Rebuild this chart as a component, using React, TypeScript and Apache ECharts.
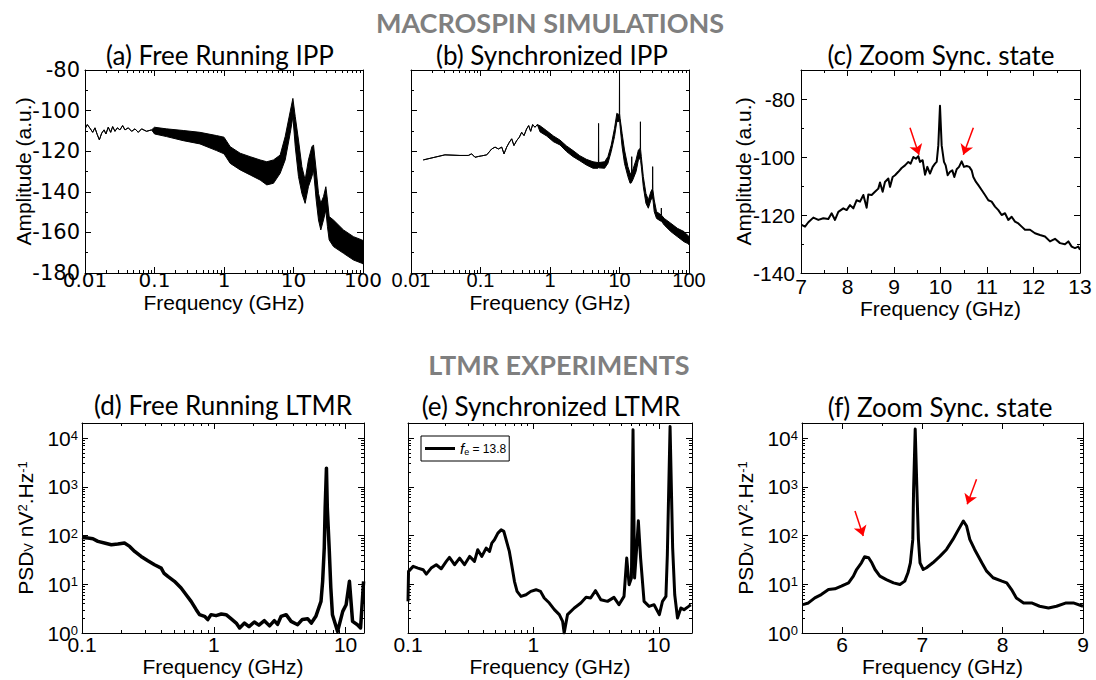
import React, { useEffect, useRef } from 'react';
import * as echarts from 'echarts';

const FONT = '"Liberation Sans", Arial, Helvetica, sans-serif';
const WIDE_FONT = '"DejaVu Sans", Verdana, sans-serif';
const TITLE_FONT = 'Lato, "Open Sans", sans-serif';

// ---------- (a) Free Running IPP: frequency (GHz), upper / lower envelope (a.u.)
const freqA = [0.0100, 0.0108, 0.0118, 0.0129, 0.0139, 0.0150, 0.0161, 0.0174, 0.0188, 0.0200, 0.0216, 0.0234, 0.0250, 0.0270, 0.0292, 0.0318, 0.0348, 0.0376, 0.0420, 0.0469, 0.0524, 0.0584, 0.0652, 0.0769, 0.0908,
  0.100, 0.149, 0.259, 0.450, 0.78, 1.0, 1.23, 1.71, 2.38, 3.31, 4.13, 5.15, 6.43, 7.59, 8.96, 9.8, 10.6, 11.8, 13.2, 14.7, 16.4, 18.4, 19.4, 21.2, 22.9, 24.7, 27.0, 29.2, 30.8, 32.6, 37.6, 52.4, 73.0, 96.2, 100];
const ampAHi = [-109.0, -106.9, -108.7, -110.7, -108.5, -111.8, -114.4, -111.1, -109.5, -111.5, -108.2, -110.7, -107.9, -110.2, -108.5, -109.5, -107.4, -109.5, -108.5, -110.2, -109.0, -110.7, -109.0, -110.2, -109.5,
  -108.2, -109.0, -109.8, -110.7, -112.3, -113.1, -117.8, -121.0, -122.7, -124.3, -125.2, -124.3, -121.9, -112.8, -100.5, -94.0, -103.0, -114.5, -127.6, -134.2, -124.3, -117.8, -116.9, -129.3, -140.8, -145.7, -142.4, -137.5, -144.0, -152.2, -153.9, -158.8, -162.1, -163.7, -164.0];
const ampALo = [-109.0, -106.9, -108.7, -110.7, -108.5, -111.8, -114.4, -111.1, -109.5, -111.5, -108.2, -110.7, -107.9, -110.2, -108.5, -109.5, -107.4, -109.5, -108.5, -110.2, -109.0, -110.7, -109.0, -110.2, -109.5,
  -111.5, -112.8, -114.8, -116.4, -119.7, -121.3, -126.0, -129.2, -131.7, -134.2, -136.6, -135.8, -130.9, -124.3, -111.2, -103.0, -117.8, -132.5, -140.8, -145.7, -137.5, -132.5, -129.3, -144.0, -153.9, -158.8, -153.9, -149.0, -157.2, -163.7, -167.0, -170.3, -173.6, -175.2, -175.5];

// ---------- (b) Synchronized IPP
const freqB = [0.0150, 0.0308, 0.0507, 0.0668, 0.0746, 0.0833, 0.0931, 0.104, 0.123, 0.145, 0.162, 0.181, 0.202, 0.218, 0.238, 0.260, 0.281, 0.303, 0.331, 0.362, 0.391, 0.423, 0.461, 0.493, 0.527, 0.563, 0.608, 0.657,
  0.72, 0.896, 1.12, 1.39, 1.73, 2.15, 2.68, 3.34, 4.16, 4.90, 4.97, 5.0, 5.03, 6.11, 6.81, 7.60, 8.48, 9.16, 9.78, 9.95, 10.0, 10.05, 10.2, 10.9, 11.8, 13.2, 14.2, 14.9, 15.0, 15.1, 15.5, 17.3, 18.7, 19.9, 20.0, 20.1, 20.6, 22.0, 24.0, 26.0, 28.3, 29.8, 30.0, 30.2, 31.6, 34.1, 38.1, 39.8, 40.0, 40.2, 44.0, 54.7, 68.1, 84.8, 94.7, 100];
const ampBHi = [-124.3, -121.8, -122.1, -122.1, -121.3, -123.0, -122.6, -122.3, -121.8, -118.9, -118.0, -118.9, -118.0, -121.3, -118.0, -115.6, -113.9, -117.2, -114.8, -113.1, -110.7, -112.3, -109.0, -107.4, -110.2, -106.9, -108.2, -106.9,
  -107.5, -109.9, -112.5, -114.5, -117.4, -119.7, -122.2, -124.0, -125.2, -125.6, -125.6, -106.3, -125.6, -125.2, -122.7, -117.0, -108.7, -101.3, -102.2, -101.0, -80.5, -101.5, -103.8, -111.2, -119.4, -127.6, -130.9, -131.0, -122.7, -130.5, -129.3, -124.3, -119.4, -118.5, -105.5, -119.0, -122.7, -132.5, -140.8, -144.0, -139.9, -138.5, -127.6, -139.0, -144.0, -149.8, -150.9, -151.5, -148.0, -151.5, -153.1, -155.5, -158.0, -159.6, -161.3, -162.0];
const ampBLo = [-124.3, -121.8, -122.1, -122.1, -121.3, -123.0, -122.6, -122.3, -121.8, -118.9, -118.0, -118.9, -118.0, -121.3, -118.0, -115.6, -113.9, -117.2, -114.8, -113.1, -110.7, -112.3, -109.0, -107.4, -110.2, -106.9, -108.2, -106.9,
  -110.5, -112.5, -115.3, -116.9, -120.2, -122.7, -124.7, -126.8, -128.4, -128.4, -128.2, -128.0, -128.2, -128.4, -126.0, -120.2, -112.8, -105.4, -105.4, -104.5, -104.0, -105.0, -107.9, -117.8, -126.0, -132.5, -135.8, -135.5, -135.0, -135.0, -134.2, -130.1, -124.3, -123.5, -124.0, -124.5, -127.6, -137.5, -145.7, -148.1, -144.0, -143.0, -143.0, -143.5, -149.8, -153.1, -154.2, -154.5, -154.5, -154.5, -156.4, -159.6, -162.1, -164.6, -165.4, -166.0];

// ---------- (c) Zoom Sync. state (simulation)
const freqC = [7.014, 7.086, 7.158, 7.265, 7.373, 7.480, 7.588, 7.659, 7.731, 7.803, 7.910, 7.982, 8.054, 8.125, 8.197, 8.269, 8.341, 8.412, 8.448, 8.520, 8.591, 8.663, 8.699, 8.756, 8.806, 8.878, 8.914, 8.971, 9.022, 9.093, 9.165, 9.237, 9.308, 9.358, 9.416, 9.473, 9.523, 9.559, 9.616, 9.667, 9.717, 9.774, 9.832, 9.882, 9.918, 9.953, 9.989, 10.025, 10.075, 10.111, 10.154, 10.204, 10.254, 10.297, 10.348, 10.398, 10.455, 10.505, 10.563, 10.620, 10.670, 10.706, 10.763, 10.814, 10.885, 10.957, 11.029, 11.100, 11.172, 11.244, 11.315, 11.387, 11.459, 11.530, 11.602, 11.674, 11.746, 11.817, 11.925, 12.032, 12.140, 12.247, 12.355, 12.462, 12.570, 12.677, 12.749, 12.821, 12.892, 12.964, 13.0];
const ampC = [-123.4, -124.0, -122.5, -120.9, -121.7, -121.1, -121.4, -119.4, -121.7, -118.9, -117.7, -118.3, -116.6, -117.7, -114.9, -115.4, -113.1, -117.5, -112.9, -113.1, -112.0, -110.9, -108.8, -112.0, -108.6, -107.4, -110.3, -106.9, -106.3, -105.1, -103.8, -102.9, -101.7, -102.3, -100.0, -100.6, -99.7, -101.7, -101.1, -106.1, -103.4, -105.7, -103.4, -102.3, -101.7, -96.0, -82.3, -96.0, -101.7, -102.9, -106.3, -105.1, -104.6, -106.9, -104.2, -103.4, -101.5, -103.4, -103.1, -103.4, -104.6, -106.9, -108.6, -109.7, -111.4, -113.1, -114.9, -115.4, -117.1, -118.3, -120.0, -119.4, -121.7, -120.6, -122.3, -122.9, -124.0, -125.1, -125.1, -126.3, -126.9, -127.4, -129.1, -128.2, -129.7, -130.1, -129.1, -130.9, -131.4, -130.9, -132.0];
const arrowsC = [[9.344, -89.9, 9.538, -99.2], [10.706, -89.9, 10.491, -99.2]];

// ---------- (d) Free Running LTMR: frequency (GHz), PSD (nV^2/Hz)
const freqD = [0.100, 0.111, 0.121, 0.132, 0.148, 0.167, 0.187, 0.210, 0.230, 0.251, 0.281, 0.316, 0.355, 0.399, 0.418, 0.448, 0.503, 0.565, 0.617, 0.673, 0.736, 0.779, 0.851, 0.900, 0.953, 1.04, 1.14, 1.24, 1.35, 1.48, 1.57, 1.71, 1.85, 2.03, 2.2, 2.42, 2.65, 2.88, 3.05, 3.24, 3.54, 3.86, 4.33, 4.7, 5.15, 5.5, 5.95, 6.51, 6.70, 6.89, 7.00, 7.16, 7.27, 7.51, 7.73, 7.95, 8.70, 9.52, 10.1, 10.7, 11.3, 12.3, 13.0, 13.7];
const psdD = [91.6, 88.7, 86, 75.8, 70.1, 64.8, 66.8, 70.1, 59.9, 47.3, 37.3, 30.4, 25.2, 21.5, 17.0, 14.5, 11.5, 8.37, 6.11, 4.46, 3.01, 2.38, 2.20, 1.88, 2.38, 2.27, 2.45, 2.38, 1.97, 1.60, 1.27, 1.60, 1.35, 1.68, 1.45, 1.79, 1.40, 1.79, 1.5, 2.20, 2.38, 1.73, 1.48, 1.9, 1.97, 1.6, 2.20, 4.46, 11.5, 55.3, 365, 2417, 365, 55.3, 8.4, 2.38, 1.08, 2.78, 3.81, 11.5, 1.73, 1.48, 1.27, 11.5];

// ---------- (e) Synchronized LTMR
const freqE = [0.100, 0.101, 0.110, 0.120, 0.132, 0.140, 0.153, 0.168, 0.184, 0.202, 0.214, 0.235, 0.258, 0.282, 0.310, 0.339, 0.360, 0.388, 0.420, 0.447, 0.466, 0.489, 0.521, 0.553, 0.581, 0.606, 0.643, 0.671, 0.706, 0.741, 0.796, 0.873, 0.954, 1.05, 1.14, 1.22, 1.34, 1.47, 1.61, 1.71, 1.76, 1.87, 2.12, 2.39, 2.63, 2.86, 3.13, 3.45, 3.90, 4.39, 4.81, 5.28, 5.55, 5.80, 6.05, 6.23, 6.41, 6.66, 6.87, 7.16, 7.63, 8.37, 9.17, 10.1, 10.7, 11.4, 11.7, 12.3, 12.9, 13.4, 14.1, 15.0, 15.9, 17.3, 18.0];
const psdE = [4.46, 18.4, 23.3, 21.5, 19.9, 16.2, 21.5, 25.2, 20.8, 29.5, 35.6, 25.2, 34.5, 25.2, 37.3, 29.5, 51.1, 37.3, 55.3, 47.3, 70.1, 82, 112, 131, 122, 82, 47.3, 25.2, 11.5, 7.15, 5.65, 6.11, 7.15, 7.74, 7.15, 5.22, 4.12, 3.01, 2.38, 1.73, 1.0, 2.38, 3.26, 4.12, 5.39, 5.22, 7.38, 4.83, 4.46, 5.39, 3.81, 5.65, 34.5, 9.8, 13.4, 14800, 13.4, 55.3, 201, 34.5, 4.46, 3.52, 3.81, 2.38, 4.46, 5.65, 40.4, 17300, 55.3, 6.11, 2.03, 3.26, 3.01, 3.52, 3.81];

// ---------- (f) Zoom Sync. state (experiment)
const freqF = [5.51, 5.58, 5.66, 5.74, 5.83, 5.91, 5.99, 6.08, 6.14, 6.18, 6.24, 6.28, 6.33, 6.37, 6.41, 6.47, 6.55, 6.64, 6.72, 6.78, 6.82, 6.85, 6.88, 6.89, 6.91, 6.93, 6.95, 6.97, 7.01, 7.05, 7.13, 7.22, 7.30, 7.38, 7.45, 7.51, 7.55, 7.59, 7.65, 7.74, 7.80, 7.88, 7.99, 8.05, 8.11, 8.17, 8.26, 8.36, 8.46, 8.57, 8.67, 8.79, 8.88, 9.00];
const psdF = [3.83, 4.14, 5.25, 6.15, 7.80, 8.05, 9.14, 10.7, 14.7, 20.1, 27.6, 36.7, 35.0, 27.6, 20.1, 14.7, 12.5, 10.7, 9.89, 11.6, 17.2, 27.6, 83.4, 892, 15300, 1044, 83.4, 27.6, 20.1, 21.8, 27.6, 37.8, 51.9, 83.4, 134, 199, 157, 83.4, 51.9, 27.6, 18.6, 13.6, 11.6, 10.7, 7.80, 5.25, 4.14, 4.14, 3.54, 3.27, 3.54, 4.14, 4.14, 3.54];
const arrowsF = [[6.16, 319, 6.263, 98], [7.674, 1432, 7.558, 437]];

// ---------- tick labels
const xTicksLogAB = [0.01, 0.1, 1, 10, 100];
const yTicksAB = [-180, -160, -140, -120, -100, -80];
const yMinorAB = [-170, -150, -130, -110, -90];
const xTicksC = [7, 8, 9, 10, 11, 12, 13];
const xMinorC = [7.5, 8.5, 9.5, 10.5, 11.5, 12.5];
const yTicksC = [-140, -120, -100, -80];
const yMinorC = [-130, -110, -90];
const xTicksLogDE = [0.1, 1, 10];
const yTicksPSD = [1, 10, 100, 1000, 10000];
const xTicksF = [6, 7, 8, 9];
const xMinorF = [6.5, 7.5, 8.5];

const lg = (v: number) => Math.log10(v);
const idf = (v: number) => v;

function logMinors(lo: number, hi: number) {
  const out: number[] = [];
  for (let k = Math.floor(lo) - 1; k <= Math.ceil(hi); k++) {
    for (let m = 2; m <= 9; m++) {
      const v = k + Math.log10(m);
      if (v > lo + 1e-6 && v < hi - 1e-6) out.push(v);
    }
  }
  return out;
}

const logLabel = (v: number) => String(+Math.pow(10, v).toPrecision(2));
const powLabel = (v: number) => `{b|10}{s|${Math.round(v)}}`;
const powRich = {
  b: { fontSize: 21, lineHeight: 18, fontFamily: FONT, color: '#000' },
  s: { fontSize: 13, lineHeight: 12, fontFamily: FONT, color: '#000', verticalAlign: 'top' },
};
const psdName = '{b|PSD}{sub|V}{b| nV}{sup|2}{b|.Hz}{sup|-1}';
const psdRich = {
  b: { fontSize: 21, lineHeight: 19, fontFamily: FONT, color: '#000' },
  sub: { fontSize: 13, lineHeight: 12, fontFamily: FONT, color: '#000', verticalAlign: 'bottom' },
  sup: { fontSize: 13, lineHeight: 12, fontFamily: FONT, color: '#000', verticalAlign: 'top' },
};

type AxOpts = {
  labels: boolean;
  fmt?: any;
  rich?: any;
  name?: string;
  nameGap?: number;
  nameRich?: any;
  margin?: number;
  fontSize?: number;
  fontFamily?: string;
};

function makeAxes(kind: 'x' | 'y', grid: number, min: number, max: number, majors: number[], minors: number[], o: AxOpts) {
  const pos = kind === 'x' ? ['bottom', 'top'] : ['left', 'right'];
  const line = (show: boolean) => ({ show, onZero: false, lineStyle: { color: '#000', width: 1 } });
  const base = {
    type: 'value',
    gridIndex: grid,
    min,
    max,
    scale: true,
    splitLine: { show: false },
  };
  const tick = (vals: number[], len: number) => ({
    show: true, inside: true, length: len, customValues: vals, lineStyle: { color: '#000', width: 1 },
  });
  const fs = o.fontSize ?? 21;
  const main: any = {
    ...base,
    position: pos[0],
    axisLine: line(true),
    axisTick: tick(majors, 6),
    axisLabel: o.labels
      ? { show: true, customValues: majors, formatter: o.fmt, color: '#000', fontFamily: o.fontFamily ?? FONT, fontSize: fs, lineHeight: fs - 4, margin: o.margin ?? 3, rich: o.rich }
      : { show: false },
  };
  if (o.name) {
    main.name = o.name;
    main.nameLocation = 'middle';
    main.nameGap = o.nameGap;
    main.nameMoveOverlap = false;
    main.nameRotate = kind === 'y' ? 90 : 0;
    main.nameTextStyle = { color: '#000', fontFamily: FONT, fontSize: 21, lineHeight: 18, rich: o.nameRich };
  }
  return [
    main,
    { ...base, position: pos[0], axisLine: line(false), axisTick: tick(minors, 3), axisLabel: { show: false } },
    { ...base, position: pos[1], axisLine: line(true), axisTick: tick(majors, 6), axisLabel: { show: false } },
    { ...base, position: pos[1], axisLine: line(false), axisTick: tick(minors, 3), axisLabel: { show: false } },
  ];
}

function pts(xs: number[], ys: number[], fx: (v: number) => number, fy: (v: number) => number) {
  return xs.map((x, i) => [fx(x), fy(ys[i])]);
}

function lineSeries(g: number, data: number[][], width: number, extra: any = {}) {
  return {
    type: 'line', xAxisIndex: g * 4, yAxisIndex: g * 4, data, symbol: 'none', showSymbol: false, silent: true,
    lineStyle: { color: '#000', width, join: 'round' }, itemStyle: { color: '#000' }, z: 3, ...extra,
  };
}

// noise band between the upper and lower envelope, drawn through the axes' own scales
function bandSeries(g: number, xs: number[], hi: number[], lo: number[]) {
  return {
    type: 'custom',
    xAxisIndex: g * 4,
    yAxisIndex: g * 4,
    silent: true,
    clip: true,
    z: 3,
    data: xs.map((x, i) => [lg(x), hi[i], lo[i]]),
    encode: { x: 0, y: [1, 2] },
    renderItem: (params: any, api: any) => {
      if (params.dataIndex !== 0) return null;
      const top = xs.map((x, i) => api.coord([lg(x), hi[i]]));
      const bot = xs.map((x, i) => api.coord([lg(x), lo[i]])).reverse();
      return {
        type: 'polygon',
        shape: { points: top.concat(bot) },
        style: { fill: '#000', stroke: '#000', lineWidth: 1, lineJoin: 'round' },
      };
    },
  };
}

function arrowMark(list: number[][], fy: (v: number) => number) {
  return {
    silent: true,
    symbol: ['none', 'arrow'],
    symbolSize: 10,
    label: { show: false },
    lineStyle: { color: '#ff0000', width: 1.5, type: 'solid' },
    itemStyle: { color: '#ff0000' },
    emphasis: { disabled: true },
    data: list.map((a) => [{ coord: [a[0], fy(a[1])] }, { coord: [a[2], fy(a[3])] }]),
  };
}

function buildOption() {
  const grids = [
    { left: 85, top: 70, width: 278, height: 203 },
    { left: 411, top: 70, width: 278, height: 203 },
    { left: 801, top: 70, width: 279, height: 203 },
    { left: 82, top: 423, width: 282, height: 210 },
    { left: 408, top: 423, width: 284, height: 210 },
    { left: 802, top: 423, width: 281, height: 210 },
  ];
  const xLogAB = xTicksLogAB.map(lg);
  const xLogDE = xTicksLogDE.map(lg);
  const yPSD = yTicksPSD.map(lg);
  const yMaxPSD = 4.31;
  const xMaxD = lg(13.8);
  const xMaxE = lg(18.4);

  const xAxis = [
    ...makeAxes('x', 0, -2, 2, xLogAB, logMinors(-2, 2), { labels: true, fmt: logLabel, name: 'Frequency (GHz)', nameGap: 20, margin: -1, fontFamily: WIDE_FONT, fontSize: 20 }),
    ...makeAxes('x', 1, -2, 2, xLogAB, logMinors(-2, 2), { labels: true, fmt: logLabel, name: 'Frequency (GHz)', nameGap: 20, margin: -1, fontSize: 20 }),
    ...makeAxes('x', 2, 7, 13, xTicksC, xMinorC, { labels: true, name: 'Frequency (GHz)', nameGap: 26, margin: 5 }),
    ...makeAxes('x', 3, -1, xMaxD, xLogDE, logMinors(-1, xMaxD), { labels: true, fmt: logLabel, name: 'Frequency (GHz)', nameGap: 24, margin: 3 }),
    ...makeAxes('x', 4, -1, xMaxE, xLogDE, logMinors(-1, xMaxE), { labels: true, fmt: logLabel, name: 'Frequency (GHz)', nameGap: 24, margin: 3 }),
    ...makeAxes('x', 5, 5.5, 9, xTicksF, xMinorF, { labels: true, name: 'Frequency (GHz)', nameGap: 24, margin: 3 }),
  ];
  const yAxis = [
    ...makeAxes('y', 0, -180, -80, yTicksAB, yMinorAB, { labels: true, name: 'Amplitude (a.u.)', nameGap: 53, margin: 5, fontFamily: WIDE_FONT, fontSize: 21 }),
    ...makeAxes('y', 1, -180, -80, yTicksAB, yMinorAB, { labels: false }),
    ...makeAxes('y', 2, -140, -70, yTicksC, yMinorC, { labels: true, name: 'Amplitude (a.u.)', nameGap: 49, margin: 6 }),
    ...makeAxes('y', 3, 0, yMaxPSD, yPSD, logMinors(0, yMaxPSD), { labels: true, fmt: powLabel, rich: powRich, name: psdName, nameRich: psdRich, nameGap: 47, margin: 4 }),
    ...makeAxes('y', 4, 0, yMaxPSD, yPSD, logMinors(0, yMaxPSD), { labels: false }),
    ...makeAxes('y', 5, 0, yMaxPSD, yPSD, logMinors(0, yMaxPSD), { labels: true, fmt: powLabel, rich: powRich, name: psdName, nameRich: psdRich, nameGap: 47, margin: 4 }),
  ];

  const series: any[] = [
    bandSeries(0, freqA, ampAHi, ampALo),
    bandSeries(1, freqB, ampBHi, ampBLo),
    lineSeries(2, pts(freqC, ampC, idf, idf), 2, { markLine: arrowMark(arrowsC, idf) }),
    lineSeries(3, pts(freqD, psdD, lg, lg), 3.5),
    lineSeries(4, pts(freqE, psdE, lg, lg), 3, { name: 'fe' }),
    lineSeries(5, pts(freqF, psdF, idf, lg), 3, { markLine: arrowMark(arrowsF, lg) }),
  ];

  const titleStyle = (text: string) => ({
    text, fill: '#000', fontFamily: TITLE_FONT, fontSize: 26, align: 'center', verticalAlign: 'middle', textAlign: 'center', textVerticalAlign: 'middle',
  });
  const headStyle = (text: string) => ({
    text, fill: '#7f7f7f', fontFamily: TITLE_FONT, fontSize: 27, fontWeight: 'bold', align: 'center', verticalAlign: 'middle', textAlign: 'center', textVerticalAlign: 'middle',
  });

  return {
    animation: false,
    backgroundColor: '#fff',
    grid: grids.map((g) => ({ ...g, containLabel: false })),
    xAxis,
    yAxis,
    series,
    legend: {
      show: true,
      data: [{ name: 'fe', icon: 'rect' }],
      left: 421,
      top: 436,
      padding: [5, 3, 5, 4],
      itemWidth: 30,
      itemHeight: 3,
      itemGap: 0,
      borderColor: '#000',
      borderWidth: 1,
      borderRadius: 0,
      backgroundColor: '#fff',
      selectedMode: false,
      formatter: () => '{i|f}{s|e}{n| = 13.8}',
      textStyle: {
        color: '#000',
        fontFamily: FONT,
        fontSize: 13,
        rich: {
          i: { fontStyle: 'italic', fontSize: 15, fontFamily: FONT, color: '#000' },
          s: { fontSize: 9, fontFamily: FONT, color: '#000', verticalAlign: 'bottom' },
          n: { fontSize: 12, fontFamily: FONT, color: '#000' },
        },
      },
    },
    graphic: [
      { type: 'text', x: 550, y: 22, style: headStyle('MACROSPIN SIMULATIONS') },
      { type: 'text', x: 559, y: 364, style: headStyle('LTMR EXPERIMENTS') },
      { type: 'text', x: 220, y: 55, style: titleStyle('(a) Free Running IPP') },
      { type: 'text', x: 552, y: 55, style: titleStyle('(b) Synchronized IPP') },
      { type: 'text', x: 941, y: 55, style: titleStyle('(c) Zoom Sync. state') },
      { type: 'text', x: 223, y: 405, style: titleStyle('(d) Free Running LTMR') },
      { type: 'text', x: 551, y: 406, style: titleStyle('(e) Synchronized LTMR') },
      { type: 'text', x: 940, y: 407, style: titleStyle('(f) Zoom Sync. state') },
    ],
  };
}

export default function App() {
  const ref = useRef<HTMLDivElement>(null);
  useEffect(() => {
    if (!ref.current) return;
    const chart = echarts.init(ref.current, null, { renderer: 'svg' });
    chart.setOption(buildOption() as any);
    return () => chart.dispose();
  }, []);
  return (
    <div
      ref={ref}
      style={{ position: 'absolute', left: 0, top: 0, width: 1096, height: 680, background: '#fff' }}
    />
  );
}
